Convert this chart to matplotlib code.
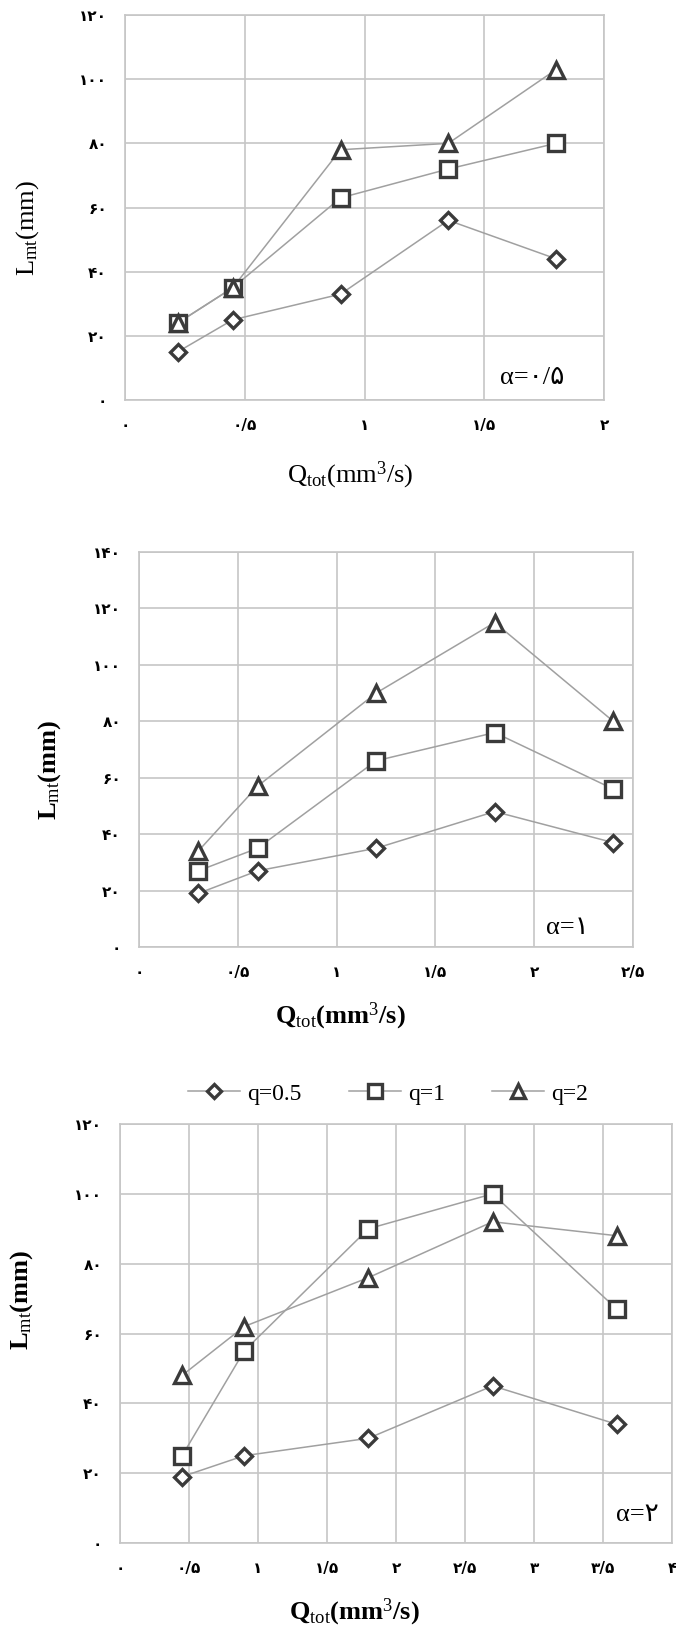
import matplotlib
matplotlib.use("Agg")
import matplotlib.pyplot as plt
from matplotlib.ticker import FuncFormatter, MultipleLocator
from matplotlib.lines import Line2D

plt.rcParams['font.family'] = ['Liberation Serif', 'DejaVu Sans']
plt.rcParams['mathtext.fontset'] = 'custom'
plt.rcParams['mathtext.rm'] = 'Liberation Serif'
plt.rcParams['mathtext.it'] = 'Liberation Serif:italic'
plt.rcParams['mathtext.bf'] = 'Liberation Serif:bold'

# ---------------- data ----------------
series_labels = ["q=0.5", "q=1", "q=2"]

# alpha = 0.5
x_a05 = [0.22, 0.45, 0.90, 1.35, 1.80]
q05_a05 = [15, 25, 33, 56, 44]
q1_a05 = [24, 35, 63, 72, 80]
q2_a05 = [24, 35, 78, 80, 103]

# alpha = 1
x_a1 = [0.30, 0.60, 1.20, 1.80, 2.40]
q05_a1 = [19, 27, 35, 48, 37]
q1_a1 = [27, 35, 66, 76, 56]
q2_a1 = [34, 57, 90, 115, 80]

# alpha = 2
x_a2 = [0.45, 0.90, 1.80, 2.70, 3.60]
q05_a2 = [19, 25, 30, 45, 34]
q1_a2 = [25, 55, 90, 100, 67]
q2_a2 = [48, 62, 76, 92, 88]

alpha_labels = ["α=۰/۵", "α=۱", "α=۲"]
x_limits = [2.0, 2.5, 4.0]
y_limits = [120, 140, 120]

# ---------------- style ----------------
W, H = 676, 1632
fig = plt.figure(figsize=(W / 100, H / 100), dpi=100)

def px_axes(left, top, right, bottom):
    return fig.add_axes([left / W, 1 - bottom / H, (right - left) / W, (bottom - top) / H])

PERSIAN = str.maketrans("0123456789.", "۰۱۲۳۴۵۶۷۸۹/")

def fa(v, pos=None):
    s = ("%g" % v)
    return s.translate(PERSIAN)

line_col = '#a0a0a0'
edge_col = '#3a3a3a'
grid_col = '#c6c6c6'
markers = ['D', 's', '^']
msizes = [8.5, 12, 12]

panels = [
    dict(box=(125, 15, 604, 400), x=x_a05, ys=[q05_a05, q1_a05, q2_a05],
         xlab=(350, 475), ylab=(28, 228), alpha=(1.70, 7.0), bold=False),
    dict(box=(139, 552, 633, 947), x=x_a1, ys=[q05_a1, q1_a1, q2_a1],
         xlab=(340, 1016), ylab=(50, 770), alpha=(2.17, 6.8), bold=True),
    dict(box=(120, 1124, 672, 1543), x=x_a2, ys=[q05_a2, q1_a2, q2_a2],
         xlab=(354, 1612), ylab=(22, 1300), alpha=(3.75, 8.0), bold=True),
]

for i, p in enumerate(panels):
    ax = px_axes(*p['box'])
    for j, yv in enumerate(p['ys']):
        ax.plot(p['x'], yv, color=line_col, lw=1.1, zorder=2)
        ax.plot(p['x'], yv, linestyle='none', marker=markers[j], ms=msizes[j],
                mfc='white', mec=edge_col, mew=2.4, zorder=3, clip_on=False)
    ax.set_xlim(0, x_limits[i])
    ax.set_ylim(0, y_limits[i])
    ax.xaxis.set_major_locator(MultipleLocator(0.5))
    ax.yaxis.set_major_locator(MultipleLocator(20))
    ax.xaxis.set_major_formatter(FuncFormatter(fa))
    ax.yaxis.set_major_formatter(FuncFormatter(fa))
    ax.grid(True, color=grid_col, lw=1.2)
    ax.set_axisbelow(True)
    for s in ax.spines.values():
        s.set_color(grid_col)
        s.set_linewidth(1.2)
    ax.tick_params(length=0, pad=13, labelsize=11)
    for lab in ax.get_xticklabels() + ax.get_yticklabels():
        lab.set_family(['DejaVu Sans'])
        lab.set_fontweight('bold')
    ax.text(p['alpha'][0], p['alpha'][1], alpha_labels[i], ha='center', va='center',
            fontsize=19, family=['Liberation Serif', 'DejaVu Sans'])
    wt = 'bold' if p['bold'] else 'normal'
    fig.text(p['xlab'][0] / W, 1 - p['xlab'][1] / H,
             r'Q$_{\mathrm{tot}}$(mm$^{3}$/s)', ha='center', va='center',
             fontsize=19, fontweight=wt)
    fig.text(p['ylab'][0] / W, 1 - p['ylab'][1] / H,
             r'L$_{\mathrm{mt}}$(mm)', ha='center', va='center', rotation=90,
             fontsize=19, fontweight=wt)

handles = [Line2D([0], [0], color=line_col, lw=1.1, marker=markers[j], ms=msizes[j] * 0.85,
                  mfc='white', mec=edge_col, mew=2.4) for j in range(3)]
fig.legend(handles, series_labels, loc='center', bbox_to_anchor=(388 / W, 1 - 1094 / H),
           ncol=3, frameon=False, fontsize=17, handlelength=2.2, columnspacing=2.0,
           handletextpad=0.3)

fig.savefig("out.png", dpi=100)
